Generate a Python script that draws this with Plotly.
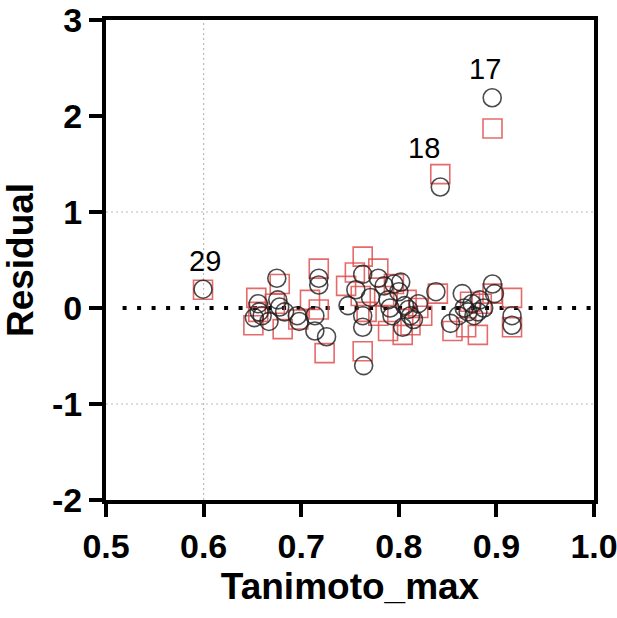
import plotly.graph_objects as go

# Black open circles
circle_x = [0.8957, 0.8425, 0.5994,
            0.652, 0.656, 0.657, 0.660, 0.667, 0.675, 0.676, 0.678, 0.683, 0.696, 0.698,
            0.714, 0.714, 0.718, 0.718, 0.726,
            0.748, 0.756, 0.763, 0.763, 0.763, 0.764, 0.771, 0.779, 0.785, 0.789, 0.791,
            0.793, 0.795, 0.800, 0.802, 0.804, 0.806, 0.810, 0.812, 0.815, 0.820,
            0.838, 0.853, 0.861, 0.865, 0.867, 0.871, 0.875, 0.877, 0.881, 0.883, 0.887,
            0.896, 0.898, 0.916, 0.916]
circle_y = [2.19, 1.26, 0.196,
            -0.10, 0.045, -0.04, -0.08, -0.14, 0.31, 0.085, 0.01, -0.04, -0.08, -0.14,
            -0.08, -0.24, 0.31, 0.24, -0.30,
            0.025, 0.19, 0.35, -0.08, -0.20, -0.60, 0.11, 0.31, 0.23, 0.085, 0.0,
            -0.08, 0.25, 0.17, 0.27, -0.20, 0.025, -0.015, -0.08, -0.12, 0.045,
            0.17, -0.16, -0.08, 0.15, 0.0, -0.04, 0.045, -0.08, -0.04, 0.085, 0.0,
            0.25, 0.15, -0.08, -0.18]

# Red open squares
square_x = [0.896, 0.8425, 0.5994,
            0.651, 0.654, 0.656, 0.673, 0.678, 0.681, 0.697, 0.709, 0.718, 0.718, 0.724,
            0.746, 0.755, 0.763, 0.761, 0.763, 0.767, 0.779, 0.779, 0.785, 0.789, 0.795,
            0.804, 0.808, 0.812, 0.824, 0.820,
            0.840, 0.855, 0.869, 0.873, 0.881, 0.885, 0.896, 0.916, 0.916]
square_y = [1.87, 1.395, 0.19,
            -0.18, 0.105, -0.04, 0.045, 0.25, -0.22, -0.12, 0.085, 0.41, -0.015, -0.47,
            0.23, 0.37, 0.535, 0.125, -0.45, -0.04, 0.41, -0.08, 0.125, -0.24, 0.25,
            -0.28, 0.085, -0.18, -0.08, 0.0,
            0.15, -0.24, -0.20, 0.065, -0.28, 0.045, 0.15, 0.105, -0.20]

# Labelled points
label_text = ["17", "18", "29"]
label_x = [0.8957, 0.8425, 0.5994]
label_y = [2.19, 1.395, 0.196]

x_ticks = [0.5, 0.6, 0.7, 0.8, 0.9, 1.0]
x_ticktext = ["0.5", "0.6", "0.7", "0.8", "0.9", "1.0"]
y_ticks = [-2, -1, 0, 1, 2, 3]
y_ticktext = ["-2", "-1", "0", "1", "2", "3"]

fig = go.Figure()

fig.add_trace(go.Scatter(
    x=square_x, y=square_y, mode="markers",
    marker=dict(symbol="square-open", size=19, color="rgba(224,80,80,0.85)",
                line=dict(width=1.6)),
    showlegend=False, hoverinfo="skip", cliponaxis=False))

fig.add_trace(go.Scatter(
    x=circle_x, y=circle_y, mode="markers",
    marker=dict(symbol="circle-open", size=18, color="rgba(30,30,30,0.8)",
                line=dict(width=1.6)),
    showlegend=False, hoverinfo="skip", cliponaxis=False))

shifts = {"17": (-7, 11), "18": (-16, 8), "29": (2, 10)}
for t, x, y in zip(label_text, label_x, label_y):
    dx, dy = shifts[t]
    fig.add_annotation(x=x, y=y, text=t, showarrow=False, yanchor="bottom",
                       xshift=dx, yshift=dy,
                       font=dict(family="Liberation Sans, Arial", size=29, color="black"))

# Reference / grid lines
fig.add_shape(type="line", x0=0.5, x1=1.0, y0=1, y1=1, xref="x", yref="y",
              line=dict(color="#bbbbbb", width=1.2, dash="2px,3px"), layer="below")
fig.add_shape(type="line", x0=0.5, x1=1.0, y0=-1, y1=-1, xref="x", yref="y",
              line=dict(color="#bbbbbb", width=1.2, dash="2px,3px"), layer="below")
fig.add_shape(type="line", x0=0.6, x1=0.6, y0=-2, y1=3, xref="x", yref="y",
              line=dict(color="#bbbbbb", width=1.2, dash="2px,3px"), layer="below")
fig.add_shape(type="line", x0=0.517, x1=1.0, y0=0, y1=0, xref="x", yref="y",
              line=dict(color="black", width=4, dash="4px,10.5px"), layer="below")

fig.update_layout(
    width=617, height=618,
    margin=dict(l=106, r=23, t=20, b=118),
    paper_bgcolor="white", plot_bgcolor="white",
    font=dict(family="Liberation Sans, Arial", color="black"),
)

fig.update_xaxes(
    range=[0.5, 1.0], tickvals=x_ticks, ticktext=x_ticktext,
    showgrid=False, zeroline=False, automargin=False, ticklabeloverflow="allow",
    showline=True, linecolor="black", linewidth=4, mirror=True,
    ticks="outside", ticklen=13, tickwidth=4, tickcolor="black",
    tickfont=dict(size=34, family="Liberation Sans, Arial", weight="bold"),
    title=dict(text="<b>Tanimoto_max</b>", font=dict(size=37), standoff=10),
)
fig.update_yaxes(
    range=[-2, 3], tickvals=y_ticks, ticktext=y_ticktext,
    showgrid=False, zeroline=False, automargin=False, ticklabeloverflow="allow",
    showline=True, linecolor="black", linewidth=4, mirror=True,
    ticks="outside", ticklen=13, tickwidth=4, tickcolor="black",
    tickfont=dict(size=34, family="Liberation Sans, Arial", weight="bold"),
    title=dict(text="<b>Residual</b>", font=dict(size=37), standoff=8),
)

fig.write_html("out.html")
